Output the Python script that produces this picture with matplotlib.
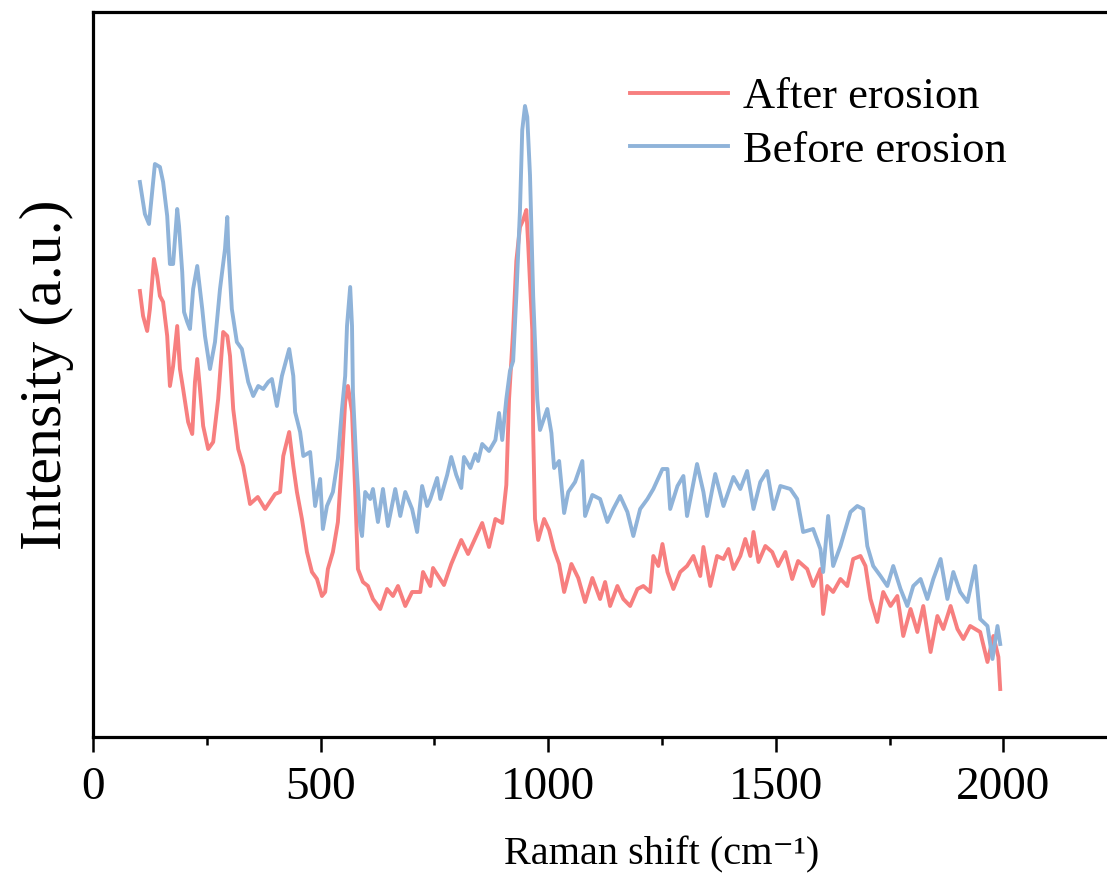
import matplotlib
matplotlib.use("Agg")
import matplotlib.pyplot as plt

# Raman spectra (shift in cm-1, intensity in a.u.)
before_shift = [103, 114, 123, 136, 147, 154, 163, 169, 176, 185, 189, 196, 200, 207, 213,
                220, 229, 235, 240, 246, 257, 268, 279, 290, 295, 297, 305, 316, 327, 341,
                352, 363, 374, 385, 393, 404, 415, 431, 440, 444, 455, 462, 477, 484, 488,
                499, 505, 514, 527, 538, 547, 554, 558, 565, 569, 571, 578, 587, 591, 598,
                609, 615, 626, 637, 648, 664, 675, 686, 701, 712, 723, 734, 741, 756, 763,
                778, 787, 798, 809, 815, 829, 840, 846, 855, 870, 884, 892, 899, 908, 916,
                923, 930, 938, 943, 949, 954, 960, 967, 976, 982, 998, 1007, 1013, 1024, 1035,
                1044, 1059, 1075, 1081, 1097, 1114, 1130, 1143, 1158, 1174, 1187, 1202, 1218,
                1231, 1251, 1262, 1268, 1284, 1297, 1305, 1327, 1341, 1349, 1367, 1385, 1407,
                1422, 1437, 1451, 1466, 1481, 1495, 1510, 1532, 1547, 1560, 1582, 1598, 1604,
                1615, 1626, 1642, 1664, 1679, 1692, 1701, 1714, 1730, 1745, 1758, 1774, 1789,
                1802, 1818, 1833, 1846, 1862, 1877, 1890, 1905, 1921, 1938, 1949, 1965, 1976,
                1987, 1993]
before_int = [555, 523, 513, 573, 570, 555, 521, 473, 473, 528, 511, 465, 425, 415, 408,
              448, 471, 448, 428, 401, 368, 395, 448, 488, 520, 491, 428, 395, 388, 355,
              341, 351, 348, 355, 358, 331, 361, 388, 361, 325, 305, 281, 285, 251, 231,
              258, 208, 231, 245, 278, 328, 361, 411, 450, 411, 345, 278, 211, 201, 245,
              238, 248, 215, 248, 211, 248, 221, 245, 228, 205, 251, 231, 238, 259, 238,
              262, 280, 262, 249, 280, 269, 283, 276, 293, 286, 297, 324, 297, 338, 366,
              376, 441, 527, 607, 631, 620, 562, 441, 338, 307, 328, 304, 269, 276, 224,
              245, 255, 276, 221, 242, 238, 215, 228, 241, 225, 201, 228, 238,
              248, 268, 268, 228, 251, 261, 221, 273, 245, 221, 263, 231, 260,
              248, 266, 228, 255, 266, 228, 251, 248, 238, 205, 208, 188, 165,
              221, 171, 191, 225, 231, 228, 191, 171, 161, 151, 171, 148, 131,
              151, 158, 138, 158, 178, 138, 165, 145, 135, 171, 118, 111, 78,
              111, 93]

after_shift = [103, 110, 119, 125, 134, 141, 147, 154, 163, 169, 176, 185, 191, 198, 209,
               218, 224, 229, 235, 242, 253, 264, 275, 286, 295, 301, 308, 319, 330, 345,
               362, 378, 400, 411, 418, 431, 440, 448, 459, 470, 481, 492, 503, 510, 516, 527,
               538, 547, 554, 560, 569, 576, 582, 593, 604, 615, 631, 646, 659, 670, 686,
               701, 719, 725, 741, 747, 771, 787, 809, 824, 855, 870, 884, 899, 908, 914,
               923, 930, 938, 945, 952, 956, 965, 967, 971, 978, 991, 1002, 1013, 1024, 1035,
               1051, 1066, 1081, 1097, 1114, 1125, 1136, 1152, 1165, 1180, 1196, 1209, 1224,
               1231, 1242, 1251, 1262, 1275, 1290, 1305, 1319, 1334, 1341, 1356, 1371, 1385,
               1396, 1407, 1422, 1433, 1444, 1451, 1462, 1477, 1492, 1505, 1521, 1536, 1549,
               1569, 1582, 1598, 1604, 1613, 1626, 1642, 1657, 1670, 1686, 1697, 1708, 1723,
               1736, 1752, 1767, 1780, 1796, 1811, 1824, 1840, 1855, 1868, 1884, 1899, 1912,
               1927, 1949, 1965, 1978, 1989, 1993]
after_int = [446, 421, 406, 428, 478, 461, 441, 435, 401, 351, 371, 411, 368, 348, 315,
             303, 355, 378, 348, 311, 288, 295, 338, 405, 401, 381, 328, 288, 271, 233,
             240, 228, 243, 245, 281, 305, 271, 245, 218, 185, 165, 158, 141, 145, 168, 185,
             215, 278, 335, 351, 325, 245, 168, 155, 151, 138, 128, 148, 141, 151, 131,
             145, 145, 165, 151, 169, 152, 173, 197, 183, 214, 190, 218, 214, 252, 338,
             407, 476, 510, 517, 527, 493, 407, 304, 218, 197, 218, 207, 187, 173, 145,
             173, 159, 135, 159, 138, 155, 131, 151, 138, 131, 148, 151, 145,
             181, 171, 193, 165, 148, 165, 171, 181, 161, 190, 151, 181, 178,
             188, 168, 181, 198, 181, 205, 175, 191, 185, 171, 185, 158, 176,
             168, 151, 168, 123, 151, 145, 158, 151, 178, 181, 171, 138, 115,
             145, 131, 141, 101, 128, 105, 131, 85, 121, 108, 131, 108, 98,
             111, 105, 75, 101, 80, 48]

plt.rcParams["font.family"] = ["Liberation Serif", "DejaVu Serif"]

fig = plt.figure(figsize=(11.07, 8.84), dpi=100)
# the original axes run past the right edge of the picture (x up to 2500)
ax = fig.add_axes([93 / 1107, (884 - 737) / 884, (1231 - 93) / 1107, (737 - 12) / 884])

ax.plot(after_shift, after_int, color="#F77F7F", lw=2.8, label="After erosion")
ax.plot(before_shift, before_int, color="#8FB3D9", lw=2.8, label="Before erosion")

ax.set_xlim(0, 2500)
ax.set_ylim(0, 725)
ax.set_xticks([0, 500, 1000, 1500, 2000])
ax.set_xticks([250, 750, 1250, 1750], minor=True)
ax.set_yticks([])
ax.spines["right"].set_visible(False)
for s in ["left", "bottom", "top"]:
    ax.spines[s].set_linewidth(2.3)
ax.tick_params(axis="x", which="major", direction="out", length=11, width=1.8,
               labelsize=34, pad=10)
ax.tick_params(axis="x", which="minor", direction="out", length=5.5, width=1.8)

ax.set_xlabel("Raman shift (cm\u207b\u00b9)", fontsize=29, labelpad=20)
ax.set_ylabel("Intensity (a.u.)", fontsize=43, labelpad=14)

ax.legend(loc="upper left", bbox_to_anchor=(0.472, 0.91), frameon=False,
          fontsize=32, handlelength=2.2, handletextpad=0.35, labelspacing=0.3,
          borderpad=0, borderaxespad=0)

fig.savefig("out.png", dpi=100)
